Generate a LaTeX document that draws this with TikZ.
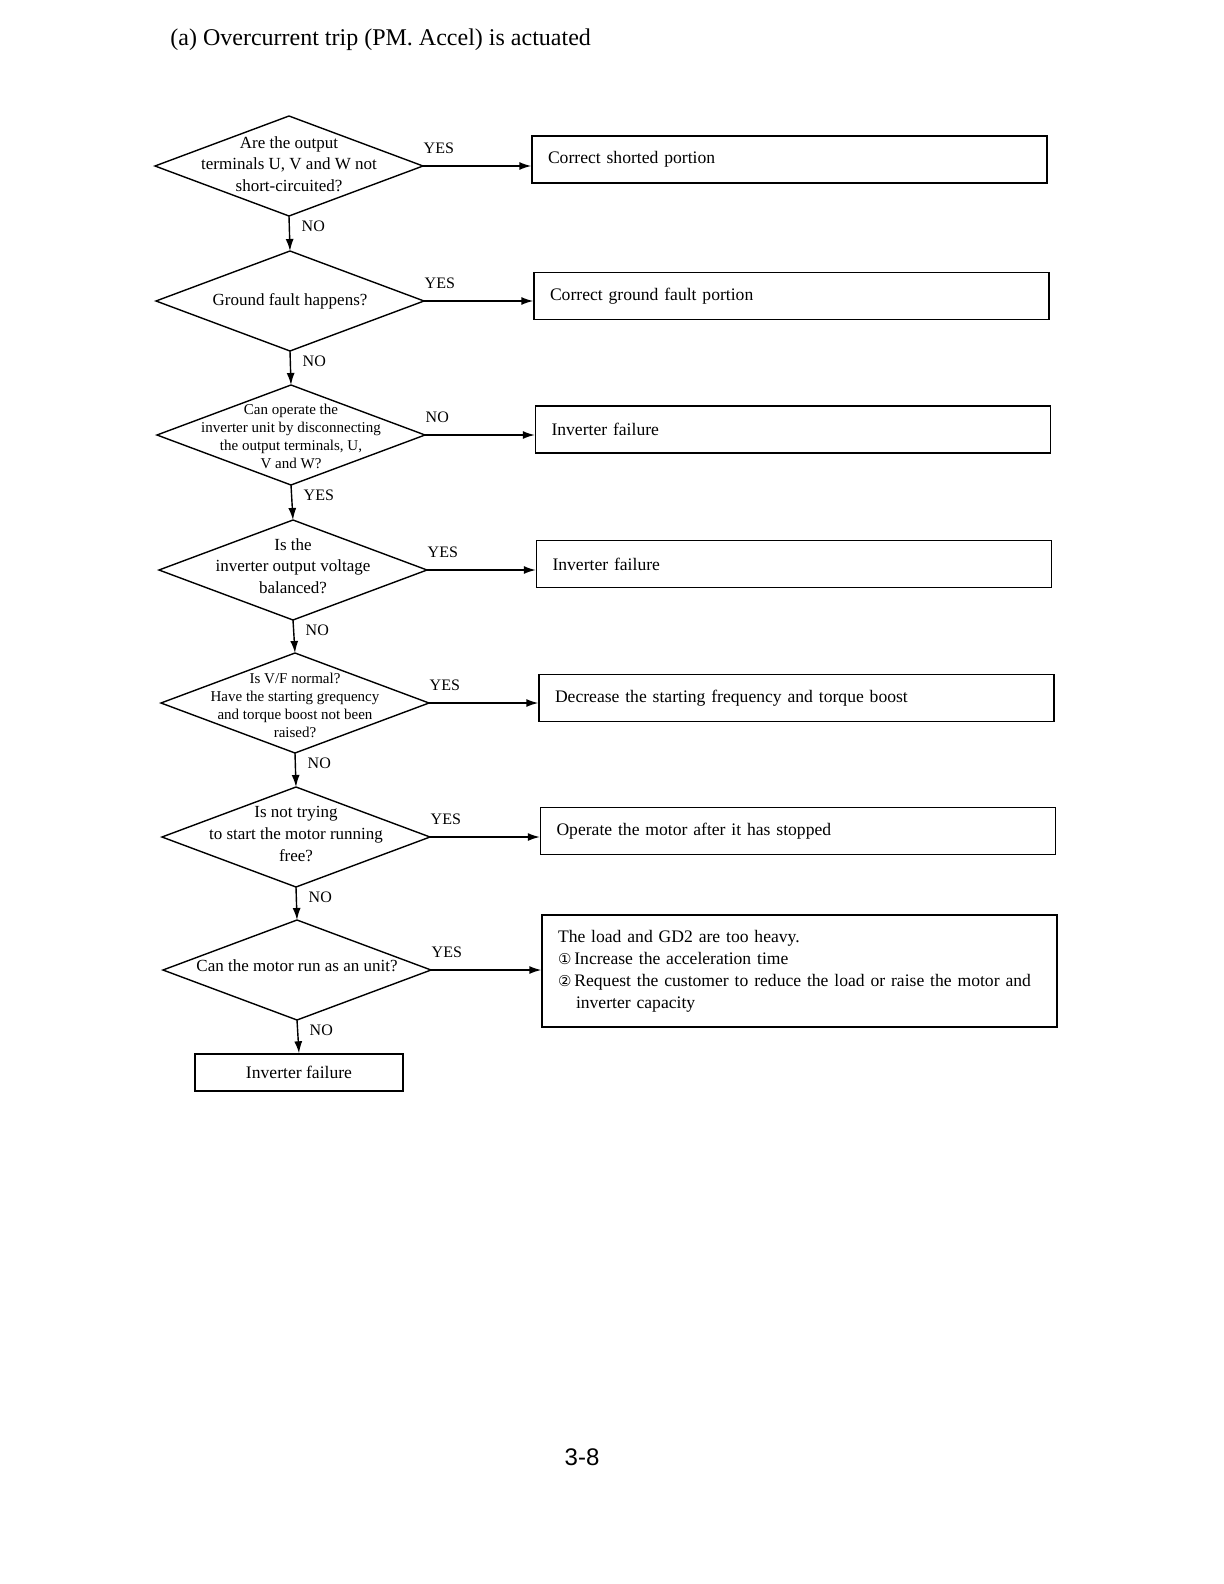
\documentclass[tikz,border=0pt]{standalone}
\usepackage{fontspec}
\setmainfont{Liberation Serif}
\newfontfamily\sansf{Liberation Sans}
\newfontfamily\djv{DejaVu Sans}
\usetikzlibrary{shapes.geometric,arrows.meta}
\begin{document}
\begin{tikzpicture}[x=0.5pt,y=-0.5pt,
  dia/.style={draw, diamond, line width=0.7pt, inner sep=0pt, outer sep=0pt, minimum width=134pt, minimum height=50pt},
  dtext/.style={align=center, font=\fontsize{8.5}{10.8}\selectfont, inner sep=0pt},
  dsmall/.style={align=center, font=\fontsize{7.5}{9}\selectfont, inner sep=0pt},
  box/.style={draw, line width=0.7pt, minimum width=257.5pt, minimum height=23.5pt, inner xsep=8pt, text width=241.5pt, align=left, font=\fontsize{8.8}{11}\selectfont},
  arr/.style={line width=0.7pt, -{Latex[length=6pt,width=4pt]}},
  hl/.style={anchor=south west, inner sep=0pt, yshift=6pt, font=\fontsize{8}{9}\selectfont},
  vl/.style={anchor=north west, inner sep=0pt, xshift=6pt, yshift=-2pt, font=\fontsize{8}{9}\selectfont}]
\useasboundingbox (0,0) rectangle (1224,1584);
\node[anchor=west, font=\fontsize{12}{14}\selectfont, inner sep=0pt] (title) at (170,40) {(a) Overcurrent trip (PM. Accel) is actuated};

\node[dia] (d1) at (289,166) {};
\node[dtext] (t1) at (289,164) {Are the output\\terminals U, V and W not\\short-circuited?};
\node[dia] (d2) at (290,301) {};
\node[dtext] (t2) at (290,301) {Ground fault happens?};
\node[dia] (d3) at (291,435) {};
\node[dsmall] (t3) at (291,436) {Can operate the\\inverter unit by disconnecting\\the output terminals, U,\\V and W?};
\node[dia] (d4) at (293,570) {};
\node[dtext] (t4) at (293,566) {Is the\\inverter output voltage\\balanced?};
\node[dia] (d5) at (295,703) {};
\node[dsmall] (t5) at (295,705) {Is V/F normal?\\Have the starting grequency\\and torque boost not been\\raised?};
\node[dia] (d6) at (296,837) {};
\node[dtext] (t6) at (296,834) {Is not trying\\to start the motor running\\free?};
\node[dia] (d7) at (297,970) {};
\node[dtext] (t7) at (297,966) {Can the motor run as an unit?};

\node[box] (b1) at (789.5,159.5) {Correct shorted portion};
\node[box] (b2) at (791.5,296) {Correct ground fault portion};
\node[box] (b3) at (793,429.5) {Inverter failure};
\node[box] (b4) at (794,564) {Inverter failure};
\node[box] (b5) at (796.5,698) {Decrease the starting frequency and torque boost};
\node[box] (b6) at (798,831) {Operate the motor after it has stopped};
\node[box, minimum height=56pt] (b7) at (799.5,971) {The load and GD2 are too heavy.\\{\djv\fontsize{7.5}{11}\selectfont ①}\,Increase the acceleration time\\{\djv\fontsize{7.5}{11}\selectfont ②}\,Request the customer to reduce the load or raise the motor and\\\hspace*{9pt}inverter capacity};
\node[draw, line width=0.7pt, minimum width=104pt, minimum height=18.5pt, font=\fontsize{8.8}{10}\selectfont] (b8) at (299,1072.5) {Inverter failure};

\draw[arr] (d1.east) -- node[hl, pos=0] {YES} (d1.east -| b1.west);
\draw[arr] (d2.east) -- node[hl, pos=0] {YES} (d2.east -| b2.west);
\draw[arr] (d3.east) -- node[hl, pos=0] {NO} (d3.east -| b3.west);
\draw[arr] (d4.east) -- node[hl, pos=0] {YES} (d4.east -| b4.west);
\draw[arr] (d5.east) -- node[hl, pos=0] {YES} (d5.east -| b5.west);
\draw[arr] (d6.east) -- node[hl, pos=0] {YES} (d6.east -| b6.west);
\draw[arr] (d7.east) -- node[hl, pos=0] {YES} (d7.east -| b7.west);

\draw[arr] (d1.south) -- node[vl, pos=0] {NO} (d2.north);
\draw[arr] (d2.south) -- node[vl, pos=0] {NO} (d3.north);
\draw[arr] (d3.south) -- node[vl, pos=0] {YES} (d4.north);
\draw[arr] (d4.south) -- node[vl, pos=0] {NO} (d5.north);
\draw[arr] (d5.south) -- node[vl, pos=0] {NO} (d6.north);
\draw[arr] (d6.south) -- node[vl, pos=0] {NO} (d7.north);
\draw[arr] (d7.south) -- node[vl, pos=0] {NO} (b8.north);

\node[font=\sansf\fontsize{12}{14}\selectfont, inner sep=0pt] (pg) at (582,1457) {3-8};
\end{tikzpicture}
\end{document}
